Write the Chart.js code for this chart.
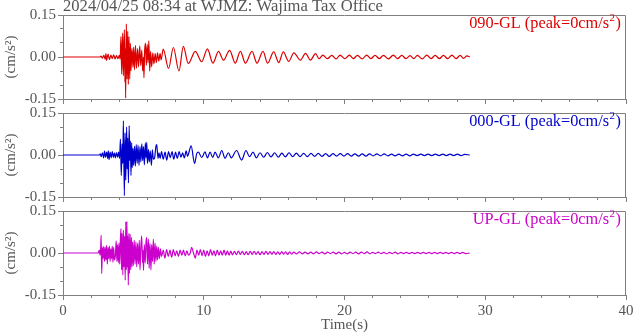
<!DOCTYPE html>
<html>
<head>
<meta charset="utf-8">
<script src="https://cdn.jsdelivr.net/npm/chart.js@4.4.0/dist/chart.umd.min.js"></script>
<style>
html, body { margin: 0; padding: 0; background: #fff; }
#wrap { position: relative; width: 633px; height: 334px; }
#wrap canvas { position: absolute; left: 0; top: 0; }
</style>
</head>
<body>
<div id="wrap">
  <canvas id="p0" width="633" height="334"></canvas>
  <canvas id="p1" width="633" height="334"></canvas>
  <canvas id="p2" width="633" height="334"></canvas>
</div>
<script>
// Station / channels
const title = '2024/04/25 08:34 at WJMZ: Wajima Tax Office';
const channels = ['090-GL', '000-GL', 'UP-GL'];
const peaks = [0, 0, 0];

// Tick values
const xMajorTicks = [0, 10, 20, 30, 40];
const xMinorTicks = [0, 2, 4, 6, 8, 10, 12, 14, 16, 18, 20, 22, 24, 26, 28, 30, 32, 34, 36, 38, 40];
const yMajorTicks = [-0.15, 0, 0.15];
const yMinorTicks = [-0.15, -0.1, -0.05, 0, 0.05, 0.1, 0.15];

// Acceleration traces [time s, cm/s2]
const ew = [
  [0, 0], [2.6, 0], [2.7, 0.003], [2.8, -0.004], [2.9, 0.006], [3.0, -0.008], [3.05, 0.012], [3.1, -0.012],
  [3.2, 0.01], [3.3, -0.009], [3.4, 0.007], [3.5, -0.006], [3.6, 0.008], [3.7, -0.007], [3.8, 0.005],
  [3.9, -0.006], [4.0, 0.006], [4.06, -0.008],
  [4.12, 0.073], [4.17, -0.061], [4.24, 0.085], [4.29, -0.067], [4.36, 0.098], [4.4, -0.09], [4.42, 0.03],
  [4.45, -0.147], [4.5, 0.118], [4.55, -0.079], [4.6, 0.092], [4.64, -0.098], [4.69, 0.073], [4.74, -0.079],
  [4.79, 0.049], [4.83, -0.049], [4.9, 0.031], [4.97, -0.037],
  [5.02, 0.035], [5.08, -0.045], [5.15, 0.042], [5.22, -0.04], [5.3, 0.03], [5.37, -0.035], [5.45, 0.04],
  [5.52, -0.03], [5.6, 0.025], [5.66, -0.05], [5.72, 0.0], [5.75, -0.074], [5.8, 0.02], [5.86, 0.05],
  [5.92, -0.03], [5.98, 0.045], [6.04, -0.02], [6.1, 0.058], [6.16, -0.05], [6.22, 0.02], [6.3, -0.035],
  [6.38, 0.015], [6.46, -0.025], [6.55, 0.012], [6.63, -0.02], [6.72, 0.015], [6.8, -0.015], [6.9, 0.012],
  [6.97, -0.01],
  [7.12, 0.028], [7.5, -0.041], [7.84, 0.034], [8.24, -0.05], [8.55, 0.038], [8.9, -0.023], [9.4, 0.02],
  [9.85, -0.017], [10.26, 0.029], [10.65, -0.022], [11.05, 0.02], [11.4, -0.011], [11.84, 0.024],
  [12.24, -0.022], [12.6, 0.02], [12.96, -0.022], [13.43, 0.02], [13.78, -0.022], [14.21, 0.02],
  [14.54, -0.022], [14.97, 0.018], [15.33, -0.02], [15.65, 0.018], [16.04, -0.016], [16.4, 0.015],
  [16.87, -0.011], [17.23, 0.013], [17.58, -0.011], [17.94, 0.012], [18.2, -0.006],
  [18.46, 0.007], [18.78, -0.006], [19.1, 0.006], [19.4, -0.007], [19.69, 0.007], [20.02, -0.006],
  [20.35, 0.007], [20.63, -0.006], [20.92, 0.006], [21.25, -0.007], [21.58, 0.007], [21.87, -0.006],
  [22.17, 0.006], [22.47, -0.006], [22.77, 0.006], [23.12, -0.007], [23.47, 0.007], [23.77, -0.006],
  [24.07, 0.006], [24.37, -0.006], [24.66, 0.005], [24.92, -0.006], [25.18, 0.006], [25.52, -0.007],
  [25.85, 0.007], [26.15, -0.006], [26.44, 0.006], [26.74, -0.006], [27.03, 0.006], [27.33, -0.006],
  [27.63, 0.007], [27.93, -0.006], [28.22, 0.006], [28.46, -0.005], [28.7, 0.004], [28.9, 0]
];

const ns = [
  [0, 0], [2.58, 0], [2.65, 0.004], [2.72, -0.006], [2.8, 0.008], [2.88, -0.01], [2.95, 0.014], [3.02, -0.008],
  [3.1, 0.01], [3.17, -0.012], [3.22, 0.015], [3.27, -0.017], [3.35, 0.01], [3.42, -0.01], [3.5, 0.012],
  [3.58, -0.009], [3.65, 0.008], [3.72, -0.01], [3.8, 0.009], [3.88, -0.008], [3.95, 0.01], [4.02, -0.012],
  [4.08, 0.057], [4.14, -0.073], [4.2, 0.04], [4.25, -0.03], [4.29, 0.122], [4.36, -0.145], [4.41, 0.079],
  [4.46, -0.09], [4.52, 0.1], [4.56, -0.05], [4.6, 0.06], [4.65, -0.1], [4.7, 0.105], [4.75, -0.02],
  [4.79, 0.05], [4.83, -0.073], [4.88, 0.043], [4.92, -0.045], [4.97, 0.024],
  [5.02, -0.037], [5.08, 0.031], [5.14, -0.04], [5.2, 0.037], [5.27, -0.03], [5.33, 0.035], [5.4, -0.037],
  [5.47, 0.03], [5.53, -0.025], [5.6, 0.04], [5.66, -0.02], [5.72, 0.03], [5.78, -0.035], [5.85, 0.043],
  [5.9, -0.01], [5.95, 0.045], [6.0, -0.03], [6.07, 0.02], [6.13, -0.025], [6.2, 0.015], [6.28, -0.037],
  [6.35, 0.018], [6.42, -0.015], [6.5, -0.012], [6.6, 0.03], [6.66, 0.037], [6.75, -0.012], [6.82, 0.008],
  [6.9, -0.012],
  [7.0, 0.012], [7.12, -0.015], [7.25, 0.01], [7.37, -0.018], [7.5, 0.012], [7.62, -0.01], [7.75, 0.012],
  [7.87, -0.015], [8.0, 0.01], [8.12, -0.012], [8.25, 0.012], [8.38, -0.008], [8.5, 0.008], [8.62, -0.01],
  [8.75, 0.015], [8.85, -0.005], [8.95, 0.01], [9.1, 0.033], [9.35, -0.03], [9.5, 0.005],
  [9.62, 0.01], [9.86, -0.009], [10.09, 0.011], [10.26, -0.01], [10.45, 0.01], [10.64, -0.009],
  [10.8, 0.01], [11.04, -0.01], [11.28, 0.016], [11.51, -0.012], [11.75, 0.008], [11.95, -0.01],
  [12.33, 0.016], [12.69, -0.018], [13.0, 0.016], [13.25, -0.006], [13.5, 0.01], [13.74, -0.01],
  [14.0, 0.008], [14.26, -0.008], [14.52, 0.009], [14.78, -0.007], [15.04, 0.008], [15.3, -0.008],
  [15.55, 0.007], [15.8, -0.007], [16.06, 0.008], [16.32, -0.006], [16.58, 0.007], [16.84, -0.006],
  [17.1, 0.006], [17.36, -0.006], [17.62, 0.006], [17.88, -0.005], [18.14, 0.006], [18.4, -0.005],
  [18.66, 0.005], [18.92, -0.005], [19.18, 0.005], [19.44, -0.004], [19.7, 0.005], [19.96, -0.004],
  [20.22, 0.005], [20.48, -0.004], [20.74, 0.004], [21.0, -0.004], [21.26, 0.004], [21.52, -0.004],
  [21.78, 0.004], [22.04, -0.003], [22.3, 0.004], [22.56, -0.003], [22.82, 0.004], [23.08, -0.003],
  [23.34, 0.003], [23.6, -0.003], [23.86, 0.003], [24.12, -0.003], [24.38, 0.003], [24.64, -0.003],
  [24.9, 0.003], [25.16, -0.002], [25.42, 0.003], [25.68, -0.002], [25.94, 0.003], [26.2, -0.002],
  [26.46, 0.003], [26.72, -0.002], [26.98, 0.003], [27.24, -0.002], [27.5, 0.003], [27.76, -0.002],
  [28.02, 0.003], [28.28, -0.002], [28.54, 0.002], [28.9, 0]
];

const ud = [
  [0, 0], [2.5, 0], [2.58, 0.01], [2.63, -0.008], [2.68, 0.02], [2.71, 0.063], [2.75, -0.074], [2.8, 0.02],
  [2.85, -0.02], [2.9, 0.025], [2.95, -0.03], [3.0, 0.02], [3.05, -0.025], [3.1, 0.027], [3.15, -0.04],
  [3.2, 0.02], [3.25, -0.02], [3.3, 0.025], [3.35, -0.03], [3.4, 0.015], [3.45, -0.02], [3.5, 0.025],
  [3.55, -0.033], [3.6, 0.02], [3.65, -0.025], [3.72, -0.01], [3.78, 0.043], [3.83, -0.03], [3.88, 0.03],
  [3.93, -0.035], [3.98, 0.035], [4.03, -0.04],
  [4.08, 0.05], [4.12, 0.087], [4.16, -0.06], [4.2, 0.07], [4.25, -0.078], [4.29, 0.082], [4.33, -0.05],
  [4.38, 0.06], [4.42, -0.097], [4.46, 0.111], [4.5, -0.06], [4.54, 0.113], [4.57, -0.05], [4.6, 0.06],
  [4.64, -0.115], [4.68, 0.07], [4.72, -0.073], [4.77, 0.067], [4.81, -0.06], [4.86, 0.056], [4.9, -0.05],
  [4.95, 0.04], [5.0, -0.045], [5.06, 0.045], [5.12, -0.04], [5.18, 0.04], [5.24, -0.05], [5.3, 0.035],
  [5.36, -0.04], [5.42, 0.045], [5.47, -0.06], [5.53, 0.02], [5.59, 0.061], [5.65, -0.035], [5.68, 0.01],
  [5.72, -0.062], [5.78, 0.03], [5.84, -0.035], [5.9, 0.04], [5.95, 0.055], [6.0, -0.04], [6.07, 0.05],
  [6.12, -0.055], [6.18, 0.035], [6.25, -0.06], [6.3, 0.03], [6.36, -0.03], [6.42, 0.05], [6.48, -0.04],
  [6.54, 0.035], [6.6, -0.03], [6.66, 0.025], [6.72, -0.025], [6.78, 0.02], [6.85, -0.02], [6.92, 0.015],
  [7.0, -0.012], [7.12, 0.01], [7.24, -0.018], [7.36, 0.012], [7.48, -0.012], [7.6, 0.01], [7.72, -0.015],
  [7.84, 0.012], [7.96, -0.01], [8.08, 0.008], [8.2, -0.012], [8.32, 0.01], [8.44, -0.008], [8.56, 0.01],
  [8.68, -0.01], [8.8, 0.008], [8.92, -0.008], [9.04, 0.0], [9.14, 0.02], [9.27, 0.0], [9.4, -0.018],
  [9.52, 0.01], [9.64, -0.008], [9.76, 0.012], [9.88, -0.01], [10.0, 0.01], [10.12, -0.012], [10.24, 0.008],
  [10.36, -0.01], [10.48, 0.012], [10.6, -0.008], [10.72, 0.008], [10.84, -0.01], [10.96, 0.01],
  [11.08, -0.008], [11.2, 0.008], [11.32, -0.008], [11.44, 0.01], [11.56, -0.008], [11.68, 0.008],
  [11.8, -0.008], [11.92, 0.007], [12.04, -0.007],
  [12.18, 0.006], [12.32, -0.006], [12.46, 0.007], [12.6, -0.005], [12.74, 0.006], [12.88, -0.006],
  [13.02, 0.005], [13.16, -0.006], [13.3, 0.006], [13.44, -0.005], [13.58, 0.006], [13.72, -0.005],
  [13.86, 0.005], [14.0, -0.006], [14.14, 0.005], [14.28, -0.005], [14.42, 0.006], [14.56, -0.005],
  [14.7, 0.005], [14.84, -0.004], [14.98, 0.005], [15.12, -0.005], [15.26, 0.004], [15.4, -0.005],
  [15.54, 0.005], [15.68, -0.004], [15.82, 0.004], [15.96, -0.005], [16.1, 0.004], [16.24, -0.004],
  [16.4, 0.003], [16.6, -0.003], [16.8, 0.004], [17.0, -0.003], [17.2, 0.003], [17.4, -0.003],
  [17.6, 0.003], [17.8, -0.003], [18.0, 0.004], [18.2, -0.002], [18.4, 0.003], [18.6, -0.003],
  [18.8, 0.003], [19.0, -0.002], [19.2, 0.003], [19.4, -0.003], [19.6, 0.003], [19.8, -0.003],
  [20.0, 0.002], [20.2, -0.003], [20.4, 0.003], [20.6, -0.002], [20.8, 0.003], [21.0, -0.003],
  [21.2, 0.003], [21.4, -0.002], [21.6, 0.004], [21.8, -0.003], [22.0, 0.002], [22.2, -0.002],
  [22.4, 0.003], [22.6, -0.002], [22.8, 0.002], [23.0, -0.003], [23.2, 0.002], [23.4, -0.002],
  [23.6, 0.003], [23.8, -0.003], [24.0, 0.002], [24.2, -0.002], [24.4, 0.002], [24.6, -0.002],
  [24.8, 0.002], [25.0, -0.002], [25.2, 0.002], [25.4, -0.002], [25.6, 0.002], [25.8, -0.002],
  [26.0, 0.002], [26.2, -0.002], [26.4, 0.002], [26.6, -0.002], [26.8, 0.002], [27.0, -0.002],
  [27.2, 0.002], [27.4, -0.002], [27.6, 0.002], [27.8, -0.002], [28.0, 0.002], [28.2, -0.002],
  [28.4, 0.002], [28.6, -0.002], [28.9, 0]
];

const traces = [ew, ns, ud];
const colors = ['#dd0000', '#0000cc', '#cc00cc'];

const GRAY = '#808080';
const TEXT = '#555555';
const SERIF = '"Liberation Serif", "Times New Roman", serif';

Chart.defaults.font.family = SERIF;
Chart.defaults.font.size = 15;
Chart.defaults.color = TEXT;

function setTicks(list) {
  return scale => { scale.ticks = list.map(v => ({ value: v })); };
}

// frame + channel label (and page title on the first panel)
const panelDeco = {
  id: 'panelDeco',
  afterDraw(chart, args, opts) {
    const { ctx, chartArea: a } = chart;
    ctx.save();
    ctx.strokeStyle = GRAY;
    ctx.lineWidth = 1;
    ctx.beginPath();
    ctx.moveTo(Math.round(a.left) + 0.5, Math.round(a.top) + 0.5);
    ctx.lineTo(Math.round(a.right) - 0.5, Math.round(a.top) + 0.5);
    ctx.lineTo(Math.round(a.right) - 0.5, Math.round(a.bottom) + 0.5);
    ctx.stroke();

    // channel label, right aligned
    ctx.fillStyle = opts.color;
    ctx.textBaseline = 'alphabetic';
    ctx.textAlign = 'left';
    const main = opts.name + ' (peak=' + opts.peak + 'cm/s';
    ctx.font = '16.3px ' + SERIF;
    const wMain = ctx.measureText(main).width;
    const wClose = ctx.measureText(')').width;
    ctx.font = '11px ' + SERIF;
    const wSup = ctx.measureText('2').width;
    const xr = a.right - 5;
    const yb = a.top + 13;
    let x = xr - wClose - wSup - 1 - wMain;
    ctx.font = '16.3px ' + SERIF;
    ctx.fillText(main, x, yb);
    x += wMain + 0.5;
    ctx.font = '11px ' + SERIF;
    ctx.fillText('2', x, yb - 7);
    x += wSup + 0.5;
    ctx.font = '16.3px ' + SERIF;
    ctx.fillText(')', x, yb);

    if (opts.title) {
      ctx.fillStyle = TEXT;
      ctx.font = '16.6px ' + SERIF;
      ctx.fillText(opts.title, a.left, 11);
    }
    ctx.restore();
  }
};

function makePanel(i) {
  const top = 15 + 98 * i;
  const bottom = top + 84;
  const last = i === traces.length - 1;
  const xh = last ? 39 : 10;

  new Chart(document.getElementById('p' + i), {
    type: 'line',
    data: {
      datasets: [{
        data: traces[i].map(p => ({ x: p[0], y: p[1] })),
        borderColor: colors[i],
        borderWidth: 1.2,
        pointRadius: 0,
        fill: false,
        cubicInterpolationMode: 'monotone'
      }]
    },
    options: {
      responsive: false,
      animation: false,
      events: [],
      layout: { padding: { top: top, left: 0, right: 7, bottom: 334 - bottom - xh } },
      plugins: {
        legend: { display: false },
        tooltip: { enabled: false },
        panelDeco: { name: channels[i], peak: peaks[i], color: colors[i], title: i === 0 ? title : null }
      },
      scales: {
        x: {
          type: 'linear', position: 'bottom', min: 0, max: 40, weight: 1,
          afterBuildTicks: setTicks(xMajorTicks),
          afterFit: s => { s.height = xh; s.paddingLeft = 0; s.paddingRight = 0; },
          ticks: { display: last, padding: 2, color: TEXT, maxRotation: 0, autoSkip: false },
          grid: { drawOnChartArea: false, tickLength: 5, color: GRAY },
          border: { color: GRAY },
          title: { display: last, text: 'Time(s)', color: TEXT, padding: { top: 0, bottom: 0 } }
        },
        xMinor: {
          type: 'linear', position: 'bottom', min: 0, max: 40, weight: 0,
          afterBuildTicks: setTicks(xMinorTicks),
          afterFit: s => { s.height = 0; s.paddingLeft = 0; s.paddingRight = 0; },
          ticks: { display: false },
          grid: { drawOnChartArea: false, tickLength: 3, color: GRAY },
          border: { display: false }
        },
        y: {
          type: 'linear', position: 'left', min: -0.15, max: 0.15, weight: 1,
          afterBuildTicks: setTicks(yMajorTicks),
          afterFit: s => { s.width = 63; s.paddingTop = 0; s.paddingBottom = 0; },
          ticks: {
            padding: 2, color: TEXT, autoSkip: false,
            callback: v => (Math.abs(v) < 1e-9 ? 0 : v).toFixed(2)
          },
          grid: { drawOnChartArea: false, tickLength: 5, color: GRAY },
          border: { color: GRAY },
          title: { display: true, text: '(cm/s²)', color: TEXT, padding: { top: 2, bottom: 0 } }
        },
        yMinor: {
          type: 'linear', position: 'left', min: -0.15, max: 0.15, weight: 0,
          afterBuildTicks: setTicks(yMinorTicks),
          afterFit: s => { s.width = 0; s.paddingTop = 0; s.paddingBottom = 0; },
          ticks: { display: false },
          grid: { drawOnChartArea: false, tickLength: 3, color: GRAY },
          border: { display: false }
        }
      }
    },
    plugins: [panelDeco]
  });
}

traces.forEach((t, i) => makePanel(i));
</script>
</body>
</html>
